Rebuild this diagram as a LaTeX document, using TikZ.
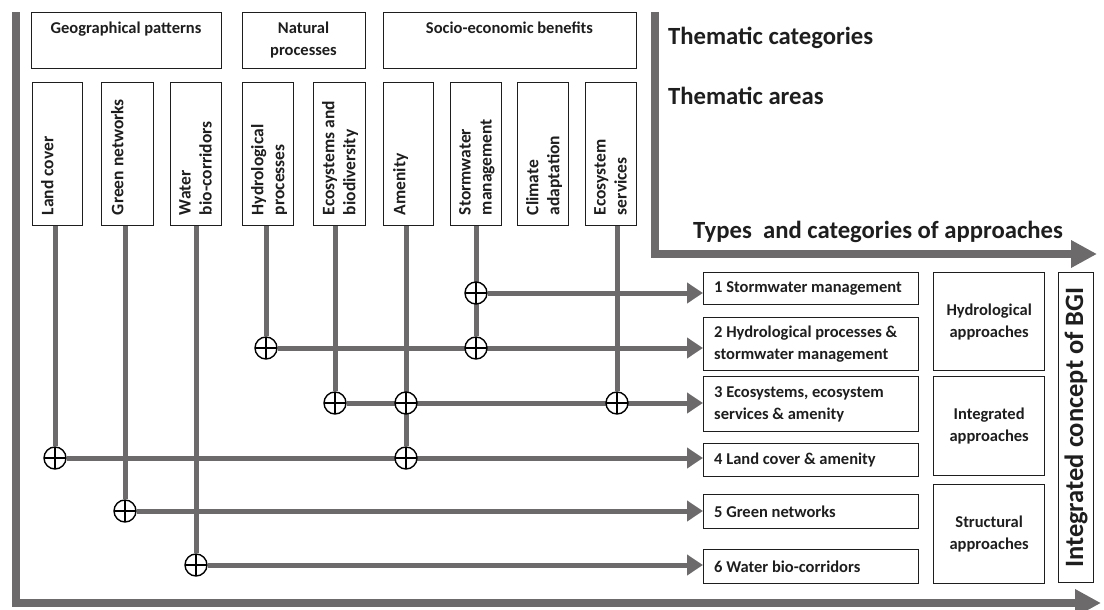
\documentclass[tikz,border=0pt]{standalone}
\usepackage{fontspec}
\setmainfont{Carlito}
\usetikzlibrary{arrows.meta,backgrounds}
\definecolor{lgray}{RGB}{109,106,107}
\definecolor{ink}{RGB}{30,30,30}
\begin{document}
\begin{tikzpicture}[x=1pt,y=-1pt,
  box/.style={draw=ink, line width=1.3pt, fill=white, inner sep=0pt, anchor=north west},
  lab/.style={font=\bfseries\fontsize{16.5}{22}\selectfont, text=ink, inner sep=0pt},
  vlab/.style={font=\bfseries\fontsize{17.5}{21}\selectfont, text=ink, inner sep=0pt, rotate=90, anchor=north west, align=left},
  title/.style={font=\bfseries\fontsize{24.7}{28}\selectfont, text=ink, inner sep=0pt, anchor=base west},
  axis/.style={draw=lgray, line width=7.5pt, line join=miter, -{Triangle[length=26pt,width=26pt]}},
  conn/.style={draw=lgray, line width=5pt},
  connarrow/.style={conn, -{Triangle[length=16pt,width=20pt]}},
  oplus/.style={circle, draw=black, line width=1.4pt, fill=white, minimum size=22pt, inner sep=0pt,
    path picture={\draw[line width=1.2pt] (path picture bounding box.north) -- (path picture bounding box.south)
      (path picture bounding box.west) -- (path picture bounding box.east);}}
]
\useasboundingbox (0,0) rectangle (1104,610);

% axes
\coordinate (o1) at (16,12);
\coordinate (o2) at (16,603);
\coordinate (o3) at (1101,603);
\coordinate (i1) at (655,12);
\coordinate (i2) at (655,254);
\coordinate (i3) at (1097,254);
\draw[axis] (o1) -- (o2) -- (o3);
\draw[axis] (i1) -- (i2) -- (i3);

% thematic categories
\node[box, minimum width=190pt, minimum height=56pt] (geo) at (31,12) {};
\node[box, minimum width=123pt, minimum height=56pt] (nat) at (242,12) {};
\node[box, minimum width=253pt, minimum height=56pt] (soc) at (383,12) {};
\node[lab, anchor=north] (geoL) at (126,22) {Geographical patterns};
\node[lab, anchor=north, align=center] (natL) at (303.5,22) {Natural\\processes};
\node[lab, anchor=north] (socL) at (509.5,22) {Socio-economic benefits};

% thematic areas
\node[box, minimum width=50pt, minimum height=143pt] (lc) at (32,82) {};
\node[box, minimum width=52pt, minimum height=143pt] (gn) at (101,82) {};
\node[box, minimum width=51pt, minimum height=143pt] (wb) at (170,82) {};
\node[box, minimum width=51pt, minimum height=143pt] (hy) at (242,82) {};
\node[box, minimum width=52pt, minimum height=143pt] (eb) at (313,82) {};
\node[box, minimum width=50pt, minimum height=143pt] (am) at (383,82) {};
\node[box, minimum width=51pt, minimum height=143pt] (sw) at (450,82) {};
\node[box, minimum width=51pt, minimum height=143pt] (ca) at (517,82) {};
\node[box, minimum width=51pt, minimum height=143pt] (es) at (585,82) {};
\node[vlab] (lcL) at ([xshift=9pt,yshift=11pt]lc.south west) {Land cover};
\node[vlab] (gnL) at ([xshift=10pt,yshift=11pt]gn.south west) {Green networks};
\node[vlab] (wbL) at ([xshift=9pt,yshift=11pt]wb.south west) {Water\\bio-corridors};
\node[vlab] (hyL) at ([xshift=9pt,yshift=11pt]hy.south west) {Hydrological\\processes};
\node[vlab] (ebL) at ([xshift=9pt,yshift=11pt]eb.south west) {Ecosystems and\\biodiversity};
\node[vlab] (amL) at ([xshift=10pt,yshift=11pt]am.south west) {Amenity};
\node[vlab] (swL) at ([xshift=9pt,yshift=11pt]sw.south west) {Stormwater\\management};
\node[vlab] (caL) at ([xshift=9pt,yshift=11pt]ca.south west) {Climate\\adaptation};
\node[vlab] (esL) at ([xshift=9pt,yshift=11pt]es.south west) {Ecosystem\\services};

% titles
\node[title] (tc) at (668,45) {Thematic categories};
\node[title] (ta) at (668,104) {Thematic areas};
\node[title] (tp) at (693,238) {Types\ \ and categories of approaches};

% approach boxes
\node[box, minimum width=215pt, minimum height=32pt] (b1) at (703,272) {};
\node[box, minimum width=215pt, minimum height=53pt] (b2) at (703,317) {};
\node[box, minimum width=215pt, minimum height=55pt] (b3) at (703,376) {};
\node[box, minimum width=215pt, minimum height=33pt] (b4) at (703,443) {};
\node[box, minimum width=215pt, minimum height=34pt] (b5) at (703,494) {};
\node[box, minimum width=215pt, minimum height=34pt] (b6) at (703,549) {};
\node[lab, anchor=west, align=left] (b1L) at ([xshift=11pt]b1.west) {1 Stormwater management};
\node[lab, anchor=west, align=left] (b2L) at ([xshift=11pt]b2.west) {2 Hydrological processes \&\\stormwater management};
\node[lab, anchor=west, align=left] (b3L) at ([xshift=11pt]b3.west) {3 Ecosystems, ecosystem\\services \& amenity};
\node[lab, anchor=west, align=left] (b4L) at ([xshift=11pt]b4.west) {4 Land cover \& amenity};
\node[lab, anchor=west, align=left] (b5L) at ([xshift=11pt]b5.west) {5 Green networks};
\node[lab, anchor=west, align=left] (b6L) at ([xshift=11pt]b6.west) {6 Water bio-corridors};

% approach types
\node[box, minimum width=111pt, minimum height=98pt] (t1) at (933,272) {};
\node[box, minimum width=111pt, minimum height=99pt] (t2) at (933,376) {};
\node[box, minimum width=111pt, minimum height=99pt] (t3) at (933,484) {};
\node[lab, align=center] (t1L) at (t1) {Hydrological\\approaches};
\node[lab, align=center] (t2L) at (t2) {Integrated\\approaches};
\node[lab, align=center] (t3L) at (t3) {Structural\\approaches};

% BGI
\node[box, minimum width=35pt, minimum height=310pt] (bgi) at (1058,272) {};
\node[font=\bfseries\fontsize{26.5}{30}\selectfont, text=ink, inner sep=0pt, rotate=90] (bgiL) at (bgi) {Integrated concept of BGI};

% junctions
\node[oplus] (c1) at (476,293) {};
\node[oplus] (c2h) at (266,348) {};
\node[oplus] (c2s) at (476,348) {};
\node[oplus] (c3e) at (335,403) {};
\node[oplus] (c3a) at (406,403) {};
\node[oplus] (c3s) at (617,403) {};
\node[oplus] (c4l) at (55,458) {};
\node[oplus] (c4a) at (406,458) {};
\node[oplus] (c5) at (125,511) {};
\node[oplus] (c6) at (196,565) {};

\begin{scope}[on background layer]
\draw[conn] (lc.south -| c4l) -- (c4l);
\draw[conn] (gn.south -| c5) -- (c5);
\draw[conn] (wb.south -| c6) -- (c6);
\draw[conn] (hy.south -| c2h) -- (c2h);
\draw[conn] (eb.south -| c3e) -- (c3e);
\draw[conn] (am.south -| c4a) -- (c4a);
\draw[conn] (sw.south -| c2s) -- (c2s);
\draw[conn] (es.south -| c3s) -- (c3s);
\draw[connarrow] (c1) -- (c1 -| b1.west);
\draw[connarrow] (c2h) -- (c2h -| b2.west);
\draw[connarrow] (c3e) -- (c3e -| b3.west);
\draw[connarrow] (c4l) -- (c4l -| b4.west);
\draw[connarrow] (c5) -- (c5 -| b5.west);
\draw[connarrow] (c6) -- (c6 -| b6.west);
\end{scope}
\end{tikzpicture}
\end{document}
